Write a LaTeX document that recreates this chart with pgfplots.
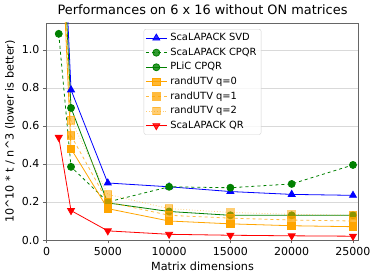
\documentclass[border=0pt]{standalone}
\usepackage{pgfplots}
\pgfplotsset{compat=1.18}
\usepackage{fontspec}
\setmainfont{DejaVu Sans}
\definecolor{mblue}{RGB}{0,0,255}
\definecolor{mgreen}{RGB}{0,128,0}
\definecolor{morange}{RGB}{255,165,0}
\definecolor{mred}{RGB}{255,0,0}
\begin{document}
\begin{tikzpicture}
\useasboundingbox (-46.5pt,-40pt) rectangle (327.5pt,240pt);
\begin{axis}[
  scale only axis, width=312pt, height=217pt,
  xmin=0, xmax=25450, ymin=0, ymax=1.142,
  xtick={0,5000,10000,15000,20000,25000},
  ytick={0,0.2,0.4,0.6,0.8,1.0},
  scaled x ticks=false,
  x tick label style={/pgf/number format/.cd, fixed, 1000 sep={}},
  y tick label style={/pgf/number format/.cd, fixed, fixed zerofill, precision=1},
  /pgf/number format/assume math mode=true,
  tick label style={font=\fontsize{11}{13}\selectfont},
  label style={font=\fontsize{11.2}{13}\selectfont},
  title style={font=\fontsize{12.9}{15}\selectfont, yshift=-1.5pt},
  title={Performances on 6 x 16 without ON matrices},
  xlabel={Matrix dimensions},
  ylabel={10\^{}10 * t / n\^{}3 (lower is better)},
  axis line style={gray!80!black},
  tick align=outside, tick pos=left,
  major tick length=3.5pt,
  every tick/.style={gray!80!black},
  ymajorgrids, grid style={gray!30, line width=0.6pt},
  legend style={at={(0.5,0.972)}, anchor=north, draw=gray!35, rounded corners=2pt,
    fill=white, fill opacity=0.8, text opacity=1,
    font=\fontsize{9.9}{11}\selectfont, row sep=0pt, inner sep=1.5pt,
    nodes={text height=7.4pt, text depth=2.2pt, inner ysep=2.5pt, inner xsep=3pt}},
  legend cell align=left,
  legend image code/.code={\draw[mark repeat=2,mark phase=2] plot coordinates {(0cm,0cm)(0.37cm,0cm)(0.74cm,0cm)};},
  every axis plot/.append style={line width=0.8pt},
]
\addplot[mblue, mark=triangle*, mark size=4pt, mark options={solid}] coordinates {
 (1000,2.2) (2000,0.79) (5000,0.30) (10000,0.28) (15000,0.255) (20000,0.24) (25000,0.235)};
\addlegendentry{ScaLAPACK SVD}
\addplot[mgreen, dashed, mark=*, mark size=3.5pt, mark options={solid}] coordinates {
 (1000,1.085) (2000,0.385) (5000,0.20) (10000,0.28) (15000,0.275) (20000,0.295) (25000,0.395)};
\addlegendentry{ScaLAPACK CPQR}
\addplot[mgreen, mark=*, mark size=3.5pt, mark options={solid}] coordinates {
 (1000,2.0) (2000,0.695) (5000,0.195) (10000,0.15) (15000,0.13) (20000,0.13) (25000,0.13)};
\addlegendentry{PLiC CPQR}
\addplot[morange, mark=square*, mark size=3.8pt, mark options={solid}] coordinates {
 (1000,1.9) (2000,0.48) (5000,0.165) (10000,0.10) (15000,0.085) (20000,0.075) (25000,0.07)};
\addlegendentry{randUTV q=0}
\addplot[morange, opacity=0.75, dashed, mark=square*, mark size=3.8pt, mark options={solid}] coordinates {
 (1000,2.0) (2000,0.55) (5000,0.20) (10000,0.13) (15000,0.115) (20000,0.105) (25000,0.10)};
\addlegendentry{randUTV q=1}
\addplot[morange, opacity=0.55, dotted, mark=square*, mark size=3.8pt, mark options={solid}] coordinates {
 (1000,2.1) (2000,0.63) (5000,0.24) (10000,0.165) (15000,0.145) (20000,0.135) (25000,0.13)};
\addlegendentry{randUTV q=2}
\addplot[mred, mark=triangle*, mark size=4pt, mark options={solid, rotate=180}] coordinates {
 (1000,0.54) (2000,0.155) (5000,0.048) (10000,0.03) (15000,0.025) (20000,0.022) (25000,0.02)};
\addlegendentry{ScaLAPACK QR}
\end{axis}
\end{tikzpicture}
\end{document}
